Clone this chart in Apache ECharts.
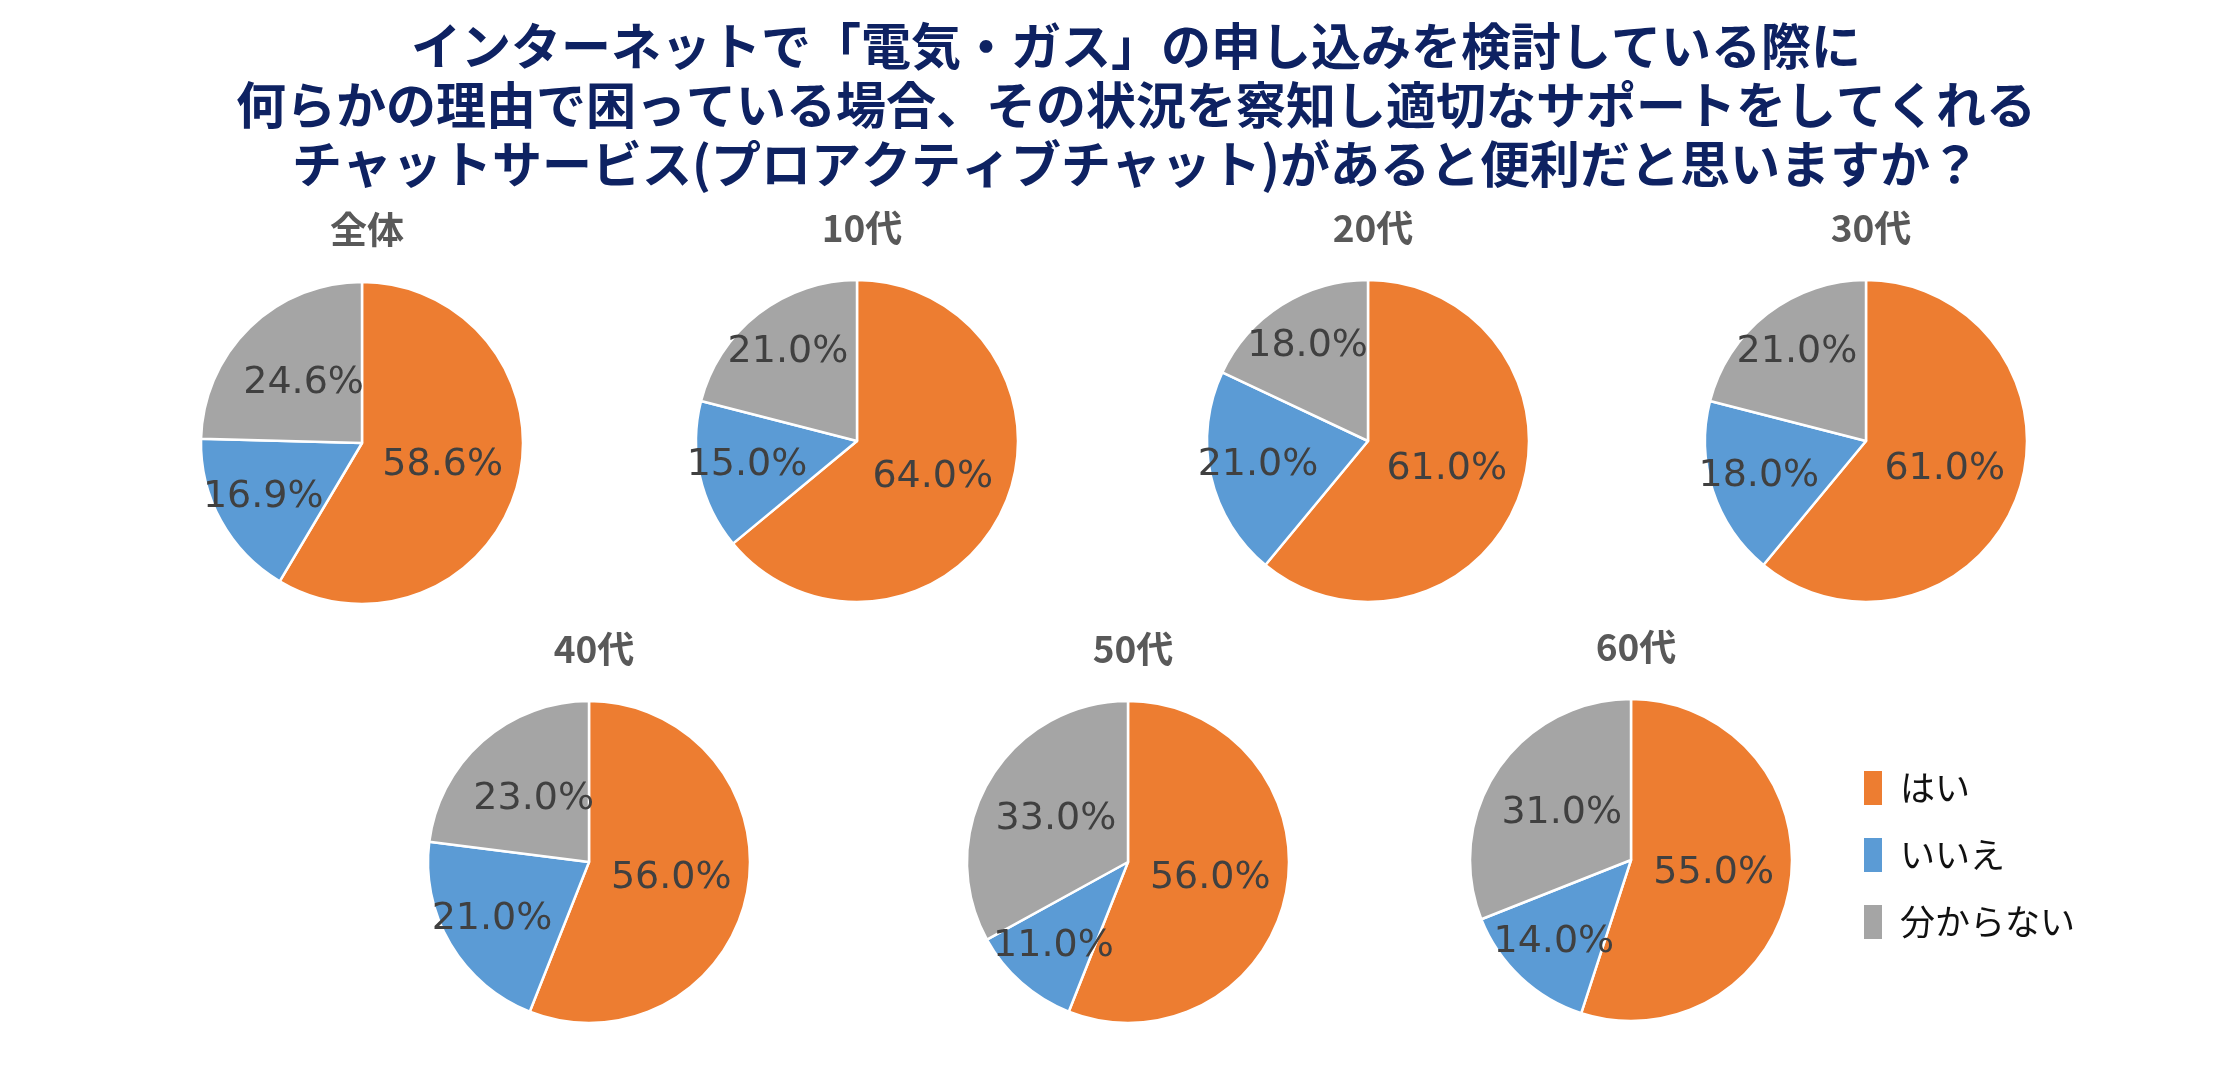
<!DOCTYPE html>
<html><head><meta charset="utf-8">
<script src="https://cdn.jsdelivr.net/npm/echarts@6/dist/echarts.min.js"></script>
<style>html,body{margin:0;padding:0;background:#fff}#c{width:2221px;height:1071px}</style>
</head><body><div id="c"></div>
<script>
const titleLines = [
  'インターネットで「電気・ガス」の申し込みを検討している際に',
  '何らかの理由で困っている場合、その状況を察知し適切なサポートをしてくれる',
  'チャットサービス(プロアクティブチャット)があると便利だと思いますか？'
];
const categories = ['はい', 'いいえ', '分からない'];
const groups = ['全体', '10代', '20代', '30代', '40代', '50代', '60代'];
const yesValues = [58.6, 64.0, 61.0, 61.0, 56.0, 56.0, 55.0];
const noValues = [16.9, 15.0, 21.0, 18.0, 21.0, 11.0, 14.0];
const unknownValues = [24.6, 21.0, 18.0, 21.0, 23.0, 33.0, 31.0];

const colors = ['#ED7D31', '#5B9BD5', '#A5A5A5'];
// layout: pie centers (px)
const centersX = [362, 857, 1368, 1866, 589, 1128, 1631];
const centersY = [443, 441, 441, 441, 862, 862, 860];
const radius = 161;

const valueSets = [yesValues, noValues, unknownValues];

function labelPlacer(i) {
  const vals = valueSets.map(s => s[i]);
  const total = vals.reduce((a, b) => a + b, 0);
  return function (params) {
    const k = params.dataIndex;
    let before = 0;
    for (let j = 0; j < k; j++) before += vals[j];
    const frac = vals[k] / total;
    const mid = (before + vals[k] / 2) / total * Math.PI * 2;
    const f = frac < 0.215 ? 0.7 : 0.52;
    return {
      x: centersX[i] + f * radius * Math.sin(mid),
      y: centersY[i] - f * radius * Math.cos(mid),
      align: 'center', verticalAlign: 'middle'
    };
  };
}

const chart = echarts.init(document.getElementById('c'), null, {renderer: 'canvas'});
const titles = [{
  text: titleLines.join('\n'),
  left: 1131, top: 11, textAlign: 'center',
  textStyle: {fontFamily: '"Noto Sans CJK JP"', fontWeight: 'bold', fontSize: 50, lineHeight: 59, color: '#0E2262'}
}];
const series = [];
groups.forEach((g, i) => {
  titles.push({
    text: g, left: centersX[i], top: centersY[i] - 237, textAlign: 'center',
    textStyle: {fontFamily: '"Noto Sans CJK JP"', fontWeight: 'bold', fontSize: 37, color: '#595959'}
  });
  series.push({
    type: 'pie', name: g, center: [centersX[i], centersY[i]], radius: radius,
    startAngle: 90, clockwise: true, animation: false, silent: true,
    color: colors,
    itemStyle: {borderColor: '#fff', borderWidth: 2.5},
    label: {show: true, position: 'inside', formatter: p => p.value.toFixed(1) + '%',
      fontFamily: '"DejaVu Sans"', fontSize: 38, color: '#404040'},
    labelLine: {show: false},
    labelLayout: labelPlacer(i),
    data: categories.map((c, k) => ({name: c, value: valueSets[k][i]}))
  });
});
chart.setOption({
  backgroundColor: '#fff',
  color: colors,
  title: titles,
  legend: {
    orient: 'vertical', left: 1857, top: 764,
    data: categories, icon: 'rect', itemWidth: 20, itemHeight: 36, itemGap: 29,
    selectedMode: false,
    textStyle: {fontFamily: '"Noto Sans CJK JP"', fontSize: 35, color: '#111', lineHeight: 36, padding: [0, 0, 0, 12]}
  },
  series: series
});
</script></body></html>
